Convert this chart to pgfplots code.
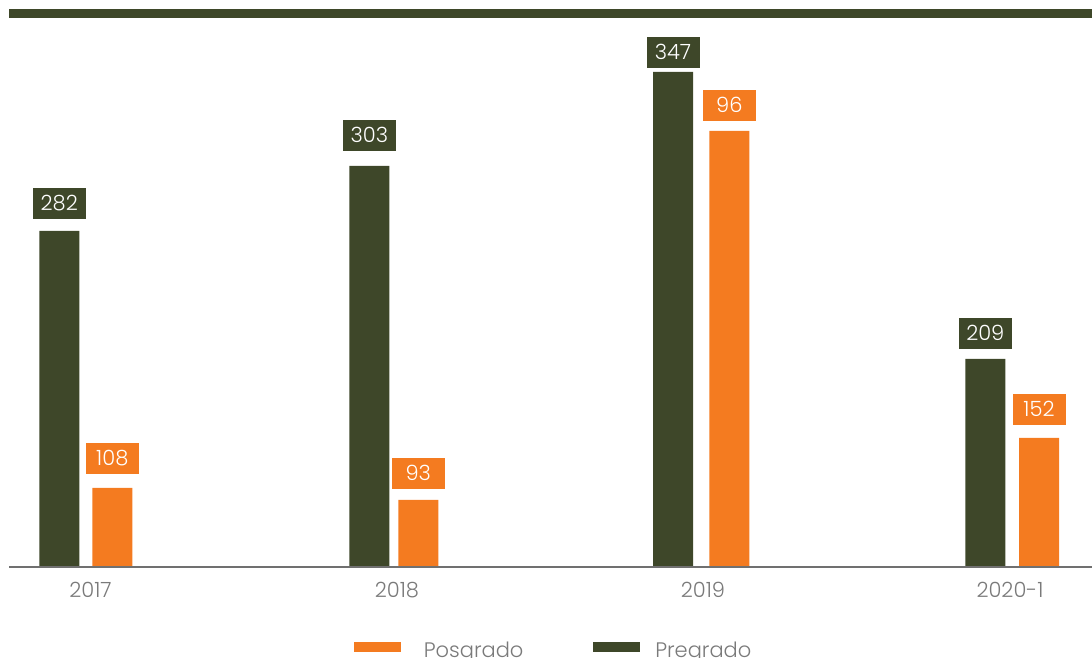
\documentclass[border=0pt]{standalone}
\usepackage{pgfplots}
\pgfplotsset{compat=1.18}
\usepackage{pgfplotstable}
\usepackage{fontspec}
\setmainfont{Poppins}[UprightFont=* Light]
\definecolor{darkg}{HTML}{3E4729}
\definecolor{orng}{HTML}{F47B20}
\definecolor{tickg}{HTML}{7A7A7A}
\definecolor{basel}{HTML}{707070}

% x = bar centre (px), h = drawn bar height (px), gap = label gap (px), lab = value
\pgfplotstableread{
x h gap lab
59.3 335 12 282
369.3 400 15 303
673 494 4 347
985.3 207 10 209
}\pregrado
\pgfplotstableread{
x h gap lab
112.3 78 14 108
418.3 66 11 93
729.3 435 10 96
1039 128 13 152
}\posgrado

\begin{document}
\begin{tikzpicture}
\begin{axis}[
  x=0.5pt, y=0.5pt,
  xmin=0, xmax=1092, ymin=-92, ymax=566,
  clip=false,
  axis x line*=middle,
  axis y line=none,
  x axis line style={draw=none},
  major tick length=0pt,
  xtick={90.5,397,703,1010},
  xticklabels={2017,2018,2019,2020-1},
  xticklabel style={anchor=base, yshift=-16pt, text=tickg, font=\fontsize{10.5}{12}\selectfont},
  ytick=\empty,
  legend columns=2,
  legend cell align=left,
  legend style={at={(axis description cs:0.3242,0.010)}, anchor=west,
    draw=none, fill=none, inner sep=0pt, outer sep=0pt,
    font=\fontsize{10.5}{12}\selectfont, text=tickg,
    /tikz/every odd column/.append style={column sep=9.5pt},
    /tikz/every even column/.append style={column sep=33pt}},
  nodes near coords={\pgfplotspointmeta},
  point meta=explicit symbolic,
  every node near coord/.append style={text=white, inner sep=0pt,
    minimum width=26.5pt, minimum height=15.5pt, anchor=south,
    font=\fontsize{10.5}{12}\selectfont},
]
\draw[basel, line width=1pt] (axis cs:9,-1) -- (axis cs:1092,-1);
\draw[darkg, line width=4.35pt] (axis cs:9,552.7) -- (axis cs:1092,552.7);

\addplot[ybar, bar width=20pt, bar shift=0pt, fill=darkg, draw=none,
  visualization depends on={\thisrow{gap} \as \gapv},
  every node near coord/.append style={fill=darkg, yshift=\gapv*0.5pt},
  forget plot]
  table[x=x, y=h, meta=lab] {\pregrado};
\addplot[ybar, bar width=20pt, bar shift=0pt, fill=orng, draw=none,
  visualization depends on={\thisrow{gap} \as \gapv},
  every node near coord/.append style={fill=orng, yshift=\gapv*0.5pt},
  forget plot]
  table[x=x, y=h, meta=lab] {\posgrado};

\addlegendimage{legend image code/.code={\fill[orng] (0pt,{0.36em-3.75pt}) rectangle (23pt,{0.36em+0.75pt});}}
\addlegendentry{Posgrado}
\addlegendimage{legend image code/.code={\fill[darkg] (0pt,{0.36em-3.75pt}) rectangle (23pt,{0.36em+0.75pt});}}
\addlegendentry{\hspace{-4pt}Pregrado}

\coordinate (bl) at (axis cs:0,-92);
\coordinate (tr) at (axis cs:1092,566);
\end{axis}
\pgfresetboundingbox
\path (bl) rectangle (tr);
\end{tikzpicture}
\end{document}
